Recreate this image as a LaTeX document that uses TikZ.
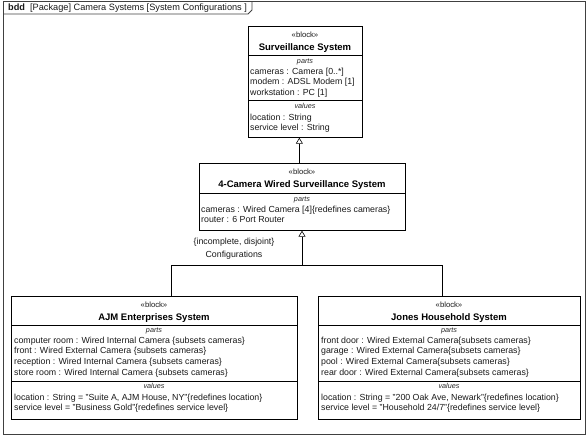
\documentclass[tikz,border=0pt]{standalone}
\usepackage{fontspec}
\setmainfont{Liberation Sans}
\usetikzlibrary{arrows.meta}
\begin{document}
\begin{tikzpicture}[x=1pt,y=-1pt,
  blk/.style={draw=black, line width=0.7pt, rectangle, inner sep=0, anchor=north west},
  txt/.style={font=\fontsize{8.8}{10}\selectfont, inner sep=0, anchor=base west, text=black!90},
  ctxt/.style={font=\fontsize{8.8}{10}\selectfont, inner sep=0, anchor=base, text=black!90},
  ster/.style={font=\fontsize{7.7}{8}\selectfont, inner sep=0, anchor=base, text=black!90},
  bname/.style={font=\bfseries\fontsize{9.5}{10}\selectfont, inner sep=0, anchor=base},
  sect/.style={font=\itshape\fontsize{7.2}{8}\selectfont, inner sep=0, anchor=base, text=black!85},
  divl/.style={draw=black, line width=0.6pt},
  gen/.style={draw=black, line width=0.6pt, -{Triangle[open, width=7pt, length=6pt]}},
  conn/.style={draw=black, line width=0.6pt}
]
\useasboundingbox (0,0) rectangle (587,439);
% frame
\draw[black!75, line width=0.8pt] (3,1) rectangle (585,434);
\draw[black!75, line width=0.8pt] (3,14) -- (248,14) -- (252,10) -- (252,1);
\node[txt, font=\fontsize{9.2}{10}\selectfont, anchor=base west] (title) at (8,10.5) {\textbf{bdd}\ \ [Package] Camera Systems [System Configurations ]};

% Surveillance System
\node[blk, minimum width=114pt, minimum height=111pt] (surv) at (248,26) {};
\node[ster] (s0) at (305,37.5) {«block»};
\node[bname] (s1) at (305,50.5) {Surveillance System};
\draw[divl] (248,55) -- (362,55);
\node[sect] (s2) at (305,63) {parts};
\foreach \t [count=\i] in {cameras : Camera [0..*], modem : ADSL Modem [1], workstation : PC [1]}
  \node[txt, name=sp\i] at (250,74+10.5*\i-10.5) {\t};
\draw[divl] (248,100) -- (362,100);
\node[sect] (s3) at (305,108) {values};
\foreach \t [count=\i] in {location : String, service level : String}
  \node[txt, name=sv\i] at (250,120+10.5*\i-10.5) {\t};

% 4-Camera
\node[blk, minimum width=206pt, minimum height=67pt] (cam) at (199,163) {};
\node[ster] (c0) at (302,174) {«block»};
\node[bname] (c1) at (302,187.5) {4-Camera Wired Surveillance System};
\draw[divl] (199,193) -- (405,193);
\node[sect] (c2) at (302,201) {parts};
\foreach \t [count=\i] in {cameras : Wired Camera [4]\{redefines cameras\}, router : 6 Port Router}
  \node[txt, name=cp\i] at (201,212+10.5*\i-10.5) {\t};

% AJM
\node[blk, minimum width=286pt, minimum height=123pt] (ajm) at (11,296) {};
\node[ster] (a0) at (154,307) {«block»};
\node[bname] (a1) at (154,320.5) {AJM Enterprises System};
\draw[divl] (11,325) -- (297,325);
\node[sect] (a2) at (154,332) {parts};
\foreach \t [count=\i] in {computer room : Wired Internal Camera \{subsets cameras\}, front : Wired External Camera \{subsets cameras\}, reception : Wired Internal Camera \{subsets cameras\}, store room : Wired Internal Camera \{subsets cameras\}}
  \node[txt, name=ap\i] at (14,343+10.8*\i-10.8) {\t};
\draw[divl] (11,381) -- (297,381);
\node[sect] (a3) at (154,388.5) {values};
\foreach \t [count=\i] in {{location : String = "Suite A, AJM House, NY"\{redefines location\}}, service level = "Business Gold"\{redefines service level\}}
  \node[txt, name=av\i] at (14,400+10.8*\i-10.8) {\t};

% Jones
\node[blk, minimum width=262pt, minimum height=123pt] (jon) at (318,296) {};
\node[ster] (j0) at (449,307) {«block»};
\node[bname] (j1) at (449,320.5) {Jones Household System};
\draw[divl] (318,325) -- (580,325);
\node[sect] (j2) at (449,332) {parts};
\foreach \t [count=\i] in {front door : Wired External Camera\{subsets cameras\}, garage : Wired External Camera\{subsets cameras\}, pool : Wired External Camera\{subsets cameras\}, rear door : Wired External Camera\{subsets cameras\}}
  \node[txt, name=jp\i] at (321,343+10.8*\i-10.8) {\t};
\draw[divl] (318,381) -- (580,381);
\node[sect] (j3) at (449,388.5) {values};
\foreach \t [count=\i] in {{location : String = "200 Oak Ave, Newark"\{redefines location\}}, service level = "Household 24/7"\{redefines service level\}}
  \node[txt, name=jv\i] at (321,400+10.8*\i-10.8) {\t};

% generalizations
\draw[gen] ([xshift=-3pt]cam.north) -- ([xshift=-3pt]cam.north |- surv.south);
\coordinate (jn) at (302,265);
\coordinate (ja) at (171,265);
\coordinate (jj) at (442,265);
\draw[gen] (jn) -- (jn |- cam.south);
\draw[conn] (ja |- ajm.north) -- (ja) -- (jj) -- (jj |- jon.north);
\node[ctxt] (gl1) at (234,244.5) {\{incomplete, disjoint\}};
\node[ctxt] (gl2) at (234,257) {Configurations};
\end{tikzpicture}
\end{document}
